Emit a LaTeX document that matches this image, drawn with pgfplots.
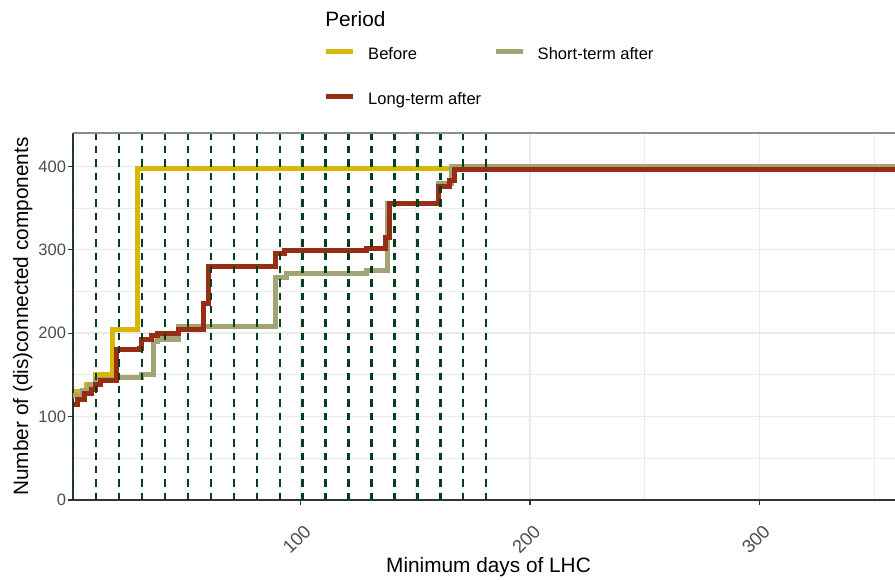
\documentclass[border=0pt]{standalone}
\usepackage{fontspec}
\setmainfont{Liberation Sans}
\usepackage{pgfplots}
\pgfplotsset{compat=1.18}
\definecolor{cgold}{HTML}{D8B70A}
\definecolor{cgreen}{HTML}{02401B}
\definecolor{colive}{HTML}{A2A475}
\definecolor{cred}{HTML}{972D15}
\definecolor{gridc}{HTML}{EBEBEB}
\definecolor{tickc}{HTML}{4D4D4D}
\begin{document}
\begin{tikzpicture}
\useasboundingbox (-54.75pt,-60pt) rectangle (616.5pt,375pt);
\begin{axis}[
  at={(0,0)}, anchor=south west,
  scale only axis, width=616.5pt, height=275.25pt,
  xmin=1, xmax=359, ymin=0, ymax=440,
  clip mode=individual,
  axis x line*=bottom, axis y line*=left,
  axis line style={-, draw=black!80, line width=0.9pt},
  xtick={100,200,300}, ytick={0,100,200,300,400},
  minor xtick={50,150,250,350}, minor ytick={50,150,250,350},
  grid=both,
  major grid style={gridc, line width=1.1pt},
  minor grid style={gridc, line width=0.6pt},
  tick align=outside, major tick length=3.75pt, minor tick length=0pt,
  tick style={black!80, line width=0.9pt},
  /pgf/number format/assume math mode=true,
  ticklabel style={font=\fontsize{12.4}{14}\selectfont, text=tickc},
  yticklabel style={anchor=east, inner sep=0pt, xshift=-1.25pt},
  xticklabel style={font=\fontsize{13.8}{16}\selectfont, xshift=1.95pt, yshift=-14pt, rotate=45, anchor=north east, inner sep=0pt},
  xlabel={Minimum days of LHC},
  ylabel={Number of (dis)connected components},
  label style={font=\fontsize{15.6}{18}\selectfont},
  xlabel style={at={(axis description cs:0.5055,-0.1989)}, anchor=base},
  ylabel style={at={(axis description cs:-0.0545,0.5)}, anchor=base},
  legend columns=2,
  legend style={draw=none, fill=none, at={(axis description cs:0.3054,1.2345)}, anchor=north west,
    inner sep=0pt, font=\fontsize{12.4}{14}\selectfont,
    nodes={inner sep=0pt, text height=9pt, text depth=0pt},
    cells={anchor=west}, row sep=24.75pt,
    /tikz/every odd column/.append style={column sep=9.75pt},
    /tikz/every even column/.append style={column sep=9.4pt}},
  legend image code/.code={\draw[#1, line width=3.2pt] plot coordinates {(0pt,1.3pt) (20pt,1.3pt)};},
]
\addplot[cgold, line width=3.8pt, const plot mark left] coordinates {
 (1,130) (7,138) (11,150) (18,204) (29,397) (359,397)};
\addlegendentry{Before}
\addplot[colive, line width=3.8pt, const plot mark left] coordinates {
 (1,125) (5,131) (8,138) (11,145) (20,147) (31,150) (36,190) (38,193) (47,208)
 (89,267) (94,271) (102,272) (129,275) (138,356) (160,379) (166,400) (359,400)};
\addlegendentry{Short-term after}
\addplot[cred, line width=3.8pt, const plot mark left] coordinates {
 (1,114) (3,121) (6,128) (9,133) (11,139) (13,143) (20,180) (30,182) (31,192)
 (35,197) (38,200) (47,204) (58,236) (60,280) (89,295) (93,299) (129,301)
 (137,315) (139,356) (160,376) (165,383) (167,396) (359,396)};
\addlegendentry{Long-term after}
\pgfplotsinvokeforeach{1,11,...,181}{
  \addplot[cgreen, line width=1.7pt, dash pattern=on 5.5pt off 4.5pt, forget plot]
    coordinates {(#1,0) (#1,440)};
}
\draw[black!45, line width=0.9pt] (rel axis cs:0,1) -- (rel axis cs:1,1);
\node[anchor=base west, inner sep=0pt, font=\fontsize{15.6}{18}\selectfont]
  at (axis description cs:0.3066,1.2898) {Period};
\end{axis}
\end{tikzpicture}
\end{document}
